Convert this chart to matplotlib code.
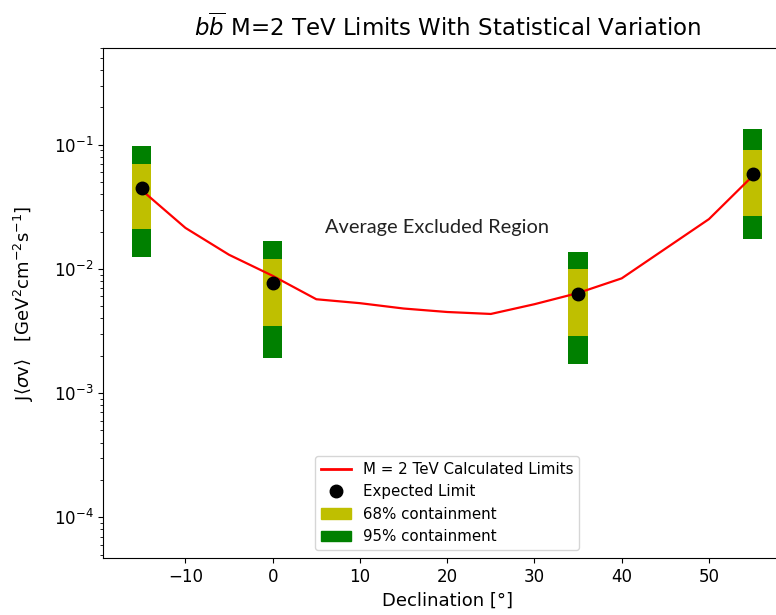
import numpy as np
import matplotlib
matplotlib.use("Agg")
import matplotlib.pyplot as plt
from matplotlib.lines import Line2D
from matplotlib.patches import Patch

# Calculated limit curve
dec = [-15, -10, -5, 0, 5, 10, 15, 20, 25, 30, 35, 40, 50, 55]
limit = [0.043, 0.0214, 0.013, 0.0088, 0.0057, 0.0053, 0.0048, 0.0045, 0.00434,
         0.0052, 0.0064, 0.0084, 0.0252, 0.056]

# Expected limits with containment bands
src_dec = [-15, 0, 35, 55]
expected = [0.045, 0.0077, 0.0063, 0.058]
lo68 = [0.0209, 0.00347, 0.00288, 0.0267]
hi68 = [0.0706, 0.0121, 0.0100, 0.091]
lo95 = [0.0124, 0.00191, 0.0017, 0.0175]
hi95 = [0.098, 0.0168, 0.0137, 0.134]

fig = plt.figure(figsize=(7.76, 6.15), dpi=100)
ax = fig.add_axes([0.1333, 0.0927, 0.886, 0.829])

lo95 = np.array(lo95); hi95 = np.array(hi95)
lo68 = np.array(lo68); hi68 = np.array(hi68)
ax.bar(src_dec, hi95 - lo95, bottom=lo95, width=2.2, color='g', zorder=1)
ax.bar(src_dec, hi68 - lo68, bottom=lo68, width=2.2, color='y', zorder=2)
ax.plot(dec, limit, color='red', lw=1.6, zorder=3)
ax.plot(src_dec, expected, 'o', color='black', ms=9, zorder=4)

ax.set_yscale('log')
ax.set_xlim(-19.4, 59.4)
ax.set_ylim(4.7e-5, 0.6)
ax.tick_params(labelsize=12)

ax.text(6.0, 0.0214, 'Average Excluded Region', fontsize=14.4, family='Lato',
        va='center', ha='left', color='#222222')

ax.set_title(r'$b\overline{b}$ M=2 TeV Limits With Statistical Variation', fontsize=16.5, pad=9)
ax.set_xlabel('Declination [°]', fontsize=13)
ax.set_ylabel(r'J$\langle\sigma\mathrm{v}\rangle$   [GeV$^2$cm$^{-2}$s$^{-1}$]', fontsize=13,
              labelpad=13)

handles = [Line2D([], [], color='red', lw=2),
           Line2D([], [], marker='o', ls='', color='black', ms=9),
           Patch(color='y'), Patch(color='g')]
labels = ['M = 2 TeV Calculated Limits', 'Expected Limit',
          '68% containment', '95% containment']
ax.legend(handles, labels, loc='lower center', fontsize=10.8)

fig.savefig('out.png', dpi=100)
